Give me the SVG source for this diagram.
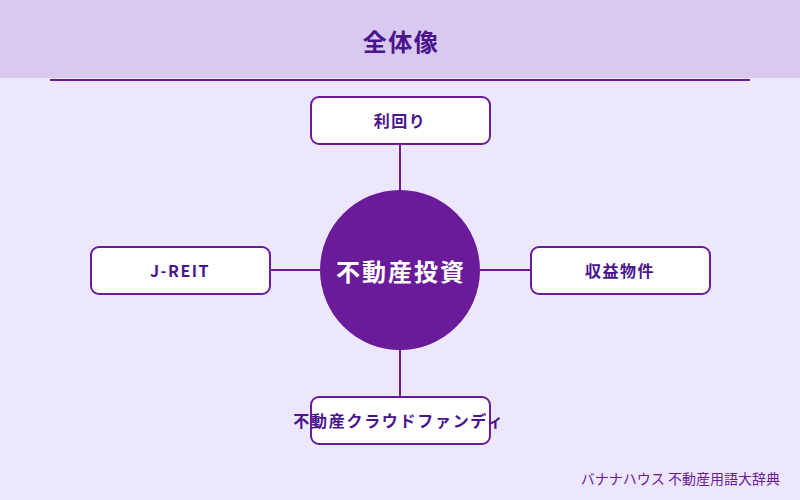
<svg xmlns="http://www.w3.org/2000/svg" width="800" height="500" viewBox="0 0 800 500">
<style>
.box{fill:#ffffff;stroke:#6A1B9A;stroke-width:2}
.lbl{font-family:"Noto Sans CJK JP","Noto Sans",sans-serif;font-weight:bold;font-size:16px;letter-spacing:1.5px;fill:#4A148C;text-anchor:middle;dominant-baseline:central}
.conn{stroke:#6A1B9A;stroke-width:2;fill:none}
</style>
<rect x="0" y="0" width="800" height="500" fill="#EDE7FD"/>
<rect x="0" y="0" width="800" height="78" fill="#D9C8EF"/>
<line x1="50" y1="80" x2="750" y2="80" stroke="#6A1B9A" stroke-width="2"/>
<text x="401" y="40" font-family="Noto Sans CJK JP,sans-serif" font-weight="bold" font-size="24" letter-spacing="1.5" fill="#4A148C" text-anchor="middle" dominant-baseline="central">全体像</text>
<g id="connectors">
<line class="conn" x1="400" y1="144" x2="400" y2="190"/>
<line class="conn" x1="400" y1="350" x2="400" y2="397"/>
<line class="conn" x1="270" y1="270" x2="320" y2="270"/>
<line class="conn" x1="480" y1="270" x2="531" y2="270"/>
</g>
<g id="center">
<circle cx="400" cy="270" r="80" fill="#6A1B9A"/>
<text x="401" y="270" font-family="Noto Sans CJK JP,sans-serif" font-weight="bold" font-size="24" letter-spacing="2" fill="#ffffff" text-anchor="middle" dominant-baseline="central">不動産投資</text>
</g>
<g id="n-top">
<rect class="box" x="311" y="97" width="179" height="47" rx="8"/>
<text class="lbl" x="400" y="120">利回り</text>
</g>
<g id="n-left">
<rect class="box" x="91" y="247" width="179" height="47" rx="8"/>
<text class="lbl" x="180" y="270">J-REIT</text>
</g>
<g id="n-right">
<rect class="box" x="531" y="247" width="179" height="47" rx="8"/>
<text class="lbl" x="620" y="270">収益物件</text>
</g>
<g id="n-bottom">
<rect class="box" x="311" y="397" width="179" height="47" rx="8"/>
<text class="lbl" x="399" y="420" style="letter-spacing:1.7px">不動産クラウドファンディ</text>
</g>
<text x="780" y="478" font-family="Noto Sans CJK JP,sans-serif" font-size="14" fill="#6A1B9A" text-anchor="end" dominant-baseline="central">バナナハウス 不動産用語大辞典</text>
</svg>
